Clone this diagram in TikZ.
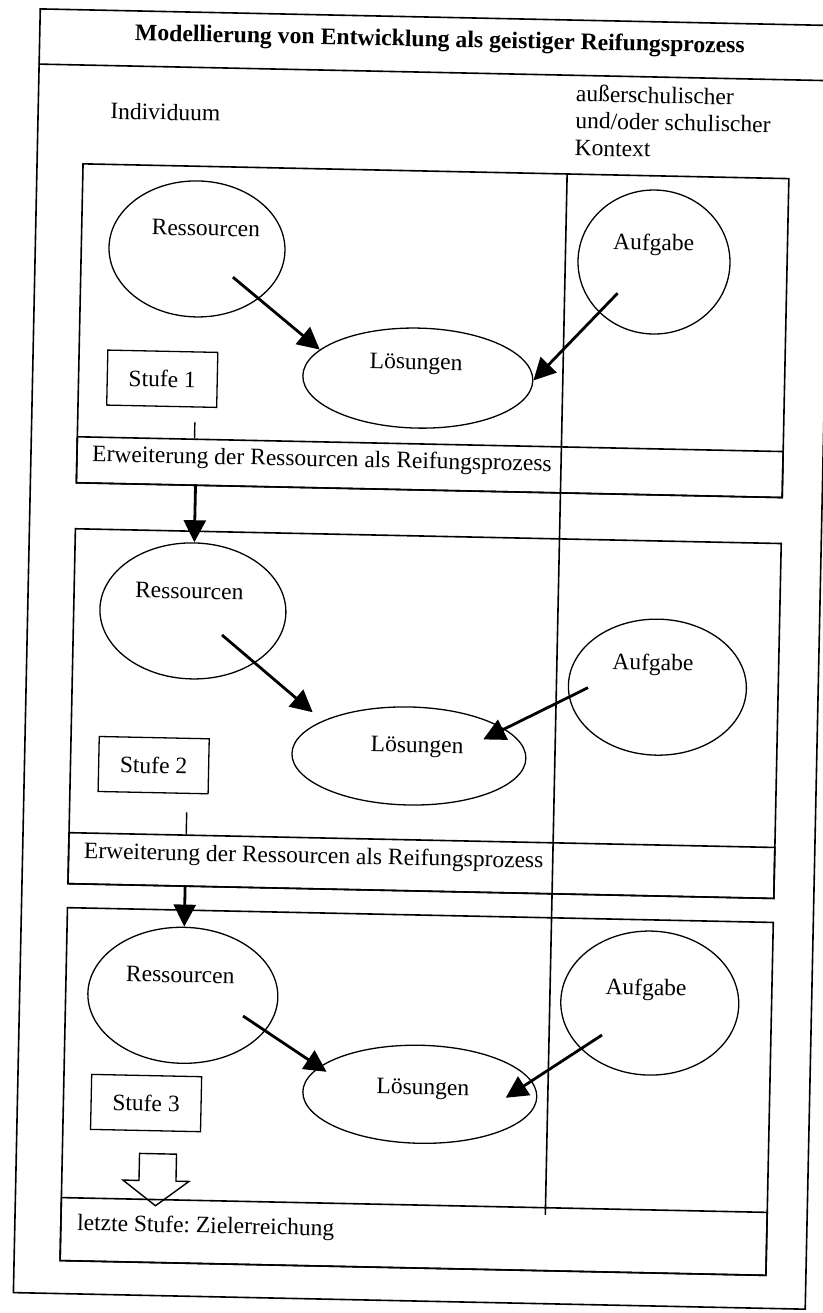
\documentclass[tikz,border=0pt]{standalone}
\usepackage{fontspec}
\setmainfont{Liberation Serif}
\usetikzlibrary{arrows.meta,shapes.geometric}
\frenchspacing
\begin{document}
\begin{tikzpicture}[x=1pt,y=-1pt,
  every node/.style={font=\fontsize{23.5}{27}\selectfont, inner sep=0pt},
  frame/.style={draw, line width=1.6pt},
  oval/.style={draw, ellipse, line width=1.3pt, inner sep=0pt},
  arr/.style={line width=2.8pt, -{Triangle[length=22pt,width=22pt]}},
  stagebox/.style={draw, line width=1.6pt, rectangle, anchor=north west, inner sep=0pt, minimum width=706pt},
  stufebox/.style={draw, line width=1.3pt, rectangle, minimum width=110pt, minimum height=55pt},
  txt/.style={anchor=mid},
  ltxt/.style={anchor=mid west}]
\useasboundingbox (0,0) rectangle (822,1313);
\fill[white] (0,0) rectangle (822,1313);
\begin{scope}[rotate around={-1.2:(411,656)}, transform shape]
  % outer frame and title
  \node[frame, rectangle, anchor=north west, minimum width=792pt, minimum height=1284pt] (outer) at (26,16) {};
  \draw[line width=1.6pt] (26,72) -- (818,72);
  \node[txt, font=\bfseries\fontsize{23.7}{28}\selectfont] (title) at (427,44) {Modellierung von Entwicklung als geistiger Reifungsprozess};
  \node[ltxt] (indiv) at (99,123) {Individuum};
  \node[anchor=west, align=left] (kontext) at (564,117) {außerschulischer\\und/oder schulischer\\Kontext};

  % stage boxes and bands
  \node[stagebox, minimum height=319pt] (s1) at (72,170) {};
  \node[stagebox, minimum height=46pt] (b1) at (72,443) {};
  \node[stagebox, minimum height=355pt] (s2) at (72,535) {};
  \node[stagebox, minimum height=51pt] (b2) at (72,839) {};
  \node[stagebox, minimum height=353pt] (s3) at (72,914) {};
  \node[stagebox, minimum height=63pt] (b3) at (72,1204) {};
  \draw[line width=1.6pt] (557,170) -- (557,1212);

  \node[ltxt] (b1t) at (88,466) {Erweiterung der Ressourcen als Reifungsprozess};
  \node[ltxt] (b2t) at (88,863) {Erweiterung der Ressourcen als Reifungsprozess};
  \node[ltxt] (b3t) at (89,1235) {letzte Stufe: Zielerreichung};

  % stage 1
  \node[oval, minimum width=176pt, minimum height=136pt] (r1) at (188.5,253.5) {};
  \node[oval, minimum width=152pt, minimum height=144pt] (a1) at (645.7,257) {};
  \node[oval, minimum width=230pt, minimum height=100pt] (l1) at (412,378) {};
  \node[txt] (r1t) at (197,238) {Ressourcen};
  \node[txt] (a1t) at (645,243) {Aufgabe};
  \node[txt] (l1t) at (410,367) {Lösungen};
  \node[stufebox] (st1) at (156.5,384) {Stufe 1};
  \coordinate (r1s) at (225,281);
  \coordinate (a1s) at (610,289);
  \draw[arr] (r1s) -- (l1.165);
  \draw[arr] (a1s) -- (l1.east);
  \draw[line width=1.4pt] (190,427) -- (190,443);

  % stage 2
  \node[oval, minimum width=186pt, minimum height=136pt] (r2) at (192,615.5) {};
  \node[oval, minimum width=178pt, minimum height=136pt] (a2) at (658,682) {};
  \node[oval, minimum width=234pt, minimum height=98pt] (l2) at (411,756) {};
  \node[txt] (r2t) at (188,601) {Ressourcen};
  \node[txt] (a2t) at (653,663) {Aufgabe};
  \node[txt] (l2t) at (419,750) {Lösungen};
  \node[stufebox] (st2) at (156,770.5) {Stufe 2};
  \coordinate (r2s) at (221.6,639);
  \coordinate (a2s) at (588.7,684);
  \draw[arr, shorten >=13pt] (r2s) -- (l2.159);
  \draw[arr, shorten >=-24pt] (a2s) -- (l2.17);
  \draw[line width=1.4pt] (190,817) -- (190,839);

  % stage 3
  \node[oval, minimum width=190pt, minimum height=136pt] (r3) at (190,1000) {};
  \node[oval, minimum width=178pt, minimum height=144pt] (a3) at (657,998) {};
  \node[oval, minimum width=234pt, minimum height=98pt] (l3) at (429,1094) {};
  \node[txt] (r3t) at (187,985) {Ressourcen};
  \node[txt] (a3t) at (653,988) {Aufgabe};
  \node[txt] (l3t) at (432,1092) {Lösungen};
  \node[stufebox] (st3) at (155.5,1108.5) {Stufe 3};
  \coordinate (r3s) at (250.6,1019.5);
  \coordinate (a3s) at (610,1031);
  \draw[arr, shorten >=-9pt] (r3s) -- (l3.166);
  \draw[arr, shorten >=-31pt] (a3s) -- (l3.8);

  % arrows between stages
  \coordinate (d1) at (192,489);
  \coordinate (d2) at (190,890);
  \draw[arr] (d1) -- (r2.north);
  \draw[arr] (d2) -- (r3.north);

  % hollow arrow to the goal
  \draw[line width=1.4pt, line join=miter]
    (150,1159) -- (187,1159) -- (187,1186) -- (200,1186) -- (167,1211) -- (134,1186) -- (150,1186) -- cycle;
\end{scope}
\end{tikzpicture}
\end{document}
